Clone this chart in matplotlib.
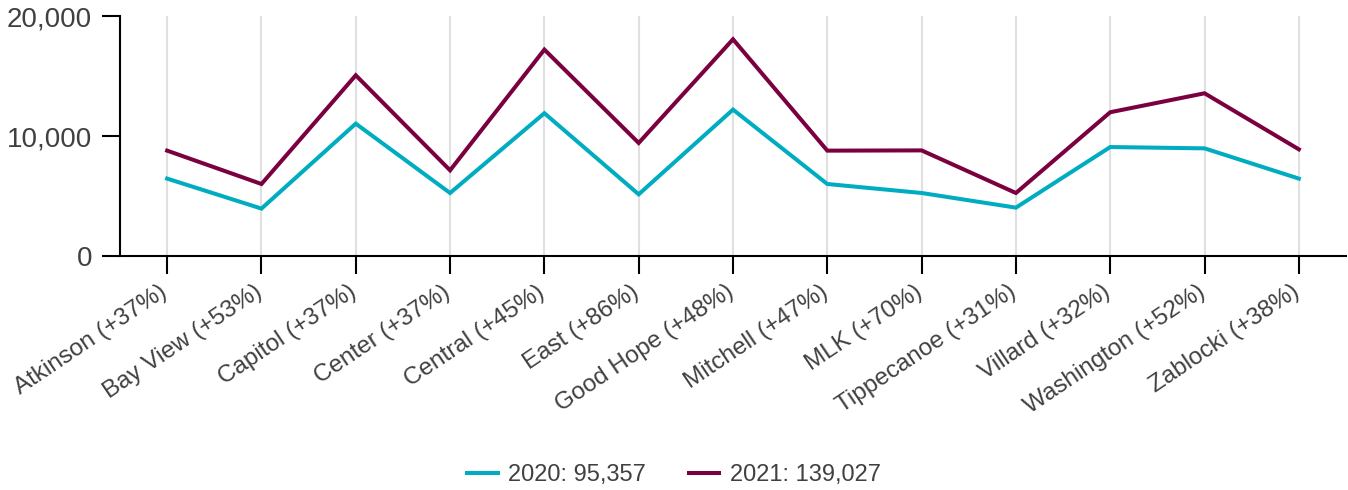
import numpy as np
import matplotlib
matplotlib.use('Agg')
import matplotlib.pyplot as plt
from matplotlib.ticker import FuncFormatter
from matplotlib.transforms import ScaledTranslation

plt.rcParams['font.family'] = ['Liberation Sans', 'DejaVu Sans']

# schools with change 2020 -> 2021
schools = ['Atkinson (+37%)', 'Bay View (+53%)', 'Capitol (+37%)', 'Center (+37%)',
           'Central (+45%)', 'East (+86%)', 'Good Hope (+48%)', 'Mitchell (+47%)',
           'MLK (+70%)', 'Tippecanoe (+31%)', 'Villard (+32%)', 'Washington (+52%)',
           'Zablocki (+38%)']
values_2020 = [6450, 3950, 11030, 5250, 11900, 5140, 12200, 6000, 5250, 4030, 9080, 8970, 6450]
values_2021 = [8780, 6000, 15060, 7140, 17200, 9420, 18060, 8780, 8800, 5250, 11980, 13560, 8890]
label_2020 = '2020: 95,357'
label_2021 = '2021: 139,027'
y_ticks = [0, 10000, 20000]

text_color = '#404040'

fig = plt.figure(figsize=(13.48, 4.9), dpi=100)
ax = fig.add_axes([120 / 1348, 1 - 256 / 490, 1226 / 1348, 240 / 490])

x = np.arange(len(schools))
ax.plot(x, values_2020, color='#00adc0', lw=2.9, label=label_2020, solid_joinstyle='miter')
ax.plot(x, values_2021, color='#7b0040', lw=2.9, label=label_2021, solid_joinstyle='miter')

ax.set_xlim(-0.5, len(schools) - 0.5)
ax.set_ylim(0, 20000)
ax.set_yticks(y_ticks)
ax.yaxis.set_major_formatter(FuncFormatter(lambda v, p: f'{int(v):,}'))
ax.tick_params(axis='y', labelsize=20, labelcolor=text_color, length=13, width=1.5, pad=7)
ax.tick_params(axis='x', length=13, width=1.5, pad=5)

ax.set_xticks(x)
ax.set_xticklabels(schools, rotation=34, ha='right', va='top', rotation_mode='anchor',
                   fontsize=17.5, color=text_color)
# nudge the rotated labels left so their ends sit under the ticks
shift = ScaledTranslation(-8 / 100, 0, fig.dpi_scale_trans)
for lbl in ax.get_xticklabels():
    lbl.set_transform(lbl.get_transform() + shift)

ax.grid(axis='x', color='#e0e0e0', lw=1.5)
ax.set_axisbelow(True)
for s in ['top', 'right']:
    ax.spines[s].set_visible(False)
for s in ['left', 'bottom']:
    ax.spines[s].set_linewidth(1.5)

fig.legend(loc='center', bbox_to_anchor=(0.5, 1 - 475 / 490), ncol=2, frameon=False,
           fontsize=17, handlelength=1.3, handletextpad=0.45, columnspacing=1.8,
           labelcolor=text_color)

fig.savefig('out.png', dpi=100)
